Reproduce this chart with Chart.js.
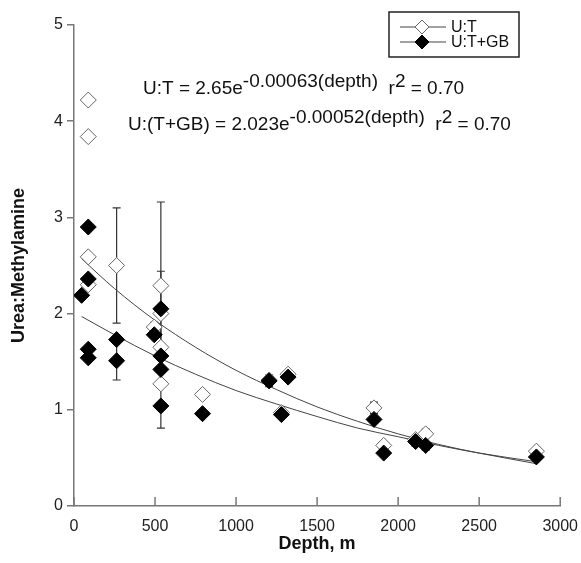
<!DOCTYPE html>
<html>
<head>
<meta charset="utf-8">
<script src="https://cdn.jsdelivr.net/npm/chart.js@4"></script>
<style>
  html, body { margin: 0; padding: 0; background: #fff; }
  #wrap { width: 581px; height: 563px; position: relative; }
</style>
</head>
<body>
<div id="wrap"><canvas id="chart"></canvas></div>
<script>
// U:T (open diamonds)
const depthUT = [88, 88, 88, 88, 263, 495, 536, 536, 536, 536, 793, 1204, 1321, 1280, 1851, 1911, 2108, 2170, 2853];
const ratioUT = [4.22, 3.84, 2.59, 2.30, 2.50, 1.86, 2.29, 2.00, 1.65, 1.27, 1.16, 1.31, 1.37, 0.97, 1.02, 0.63, 0.69, 0.75, 0.57];

// U:T+GB (filled diamonds)
const depthUTGB = [47, 88, 88, 88, 88, 263, 263, 495, 536, 536, 536, 536, 793, 1204, 1321, 1280, 1851, 1911, 2108, 2170, 2853];
const ratioUTGB = [2.19, 2.90, 2.36, 1.63, 1.54, 1.73, 1.51, 1.78, 2.05, 1.56, 1.42, 1.04, 0.96, 1.30, 1.34, 0.95, 0.90, 0.55, 0.67, 0.63, 0.51];

// error bars: depth, low, high
const errDepth = [263, 263, 536, 536, 536, 495, 1204, 1851, 2108, 2170];
const errLow   = [1.90, 1.31, 1.42, 1.66, 0.81, 1.81, 1.24, 0.96, 0.62, 0.58];
const errHigh  = [3.10, 1.71, 3.16, 2.44, 1.27, 1.91, 1.36, 1.08, 0.73, 0.80];

// fitted curves
const fitDepth = [47, 250, 500, 750, 1000, 1250, 1500, 1750, 2000, 2250, 2500, 2853];
const fitUT    = [2.57, 2.26, 1.93, 1.65, 1.41, 1.21, 1.03, 0.88, 0.75, 0.64, 0.55, 0.44];
const fitUTGB  = [1.97, 1.78, 1.56, 1.37, 1.20, 1.06, 0.93, 0.81, 0.72, 0.63, 0.55, 0.46];

const xTicks = [0, 500, 1000, 1500, 2000, 2500, 3000];
const yTicks = [0, 1, 2, 3, 4, 5];

const FONT = '"Liberation Sans", Arial, Helvetica, sans-serif';
const AXIS = '#777';

const toPts = (xs, ys) => xs.map((x, i) => ({x: x, y: ys[i]}));

// error bars drawn under the markers
const errorBars = {
    id: 'errorBars',
    beforeDatasetsDraw(chart) {
        const {ctx, scales: {x, y}} = chart;
        ctx.save();
        ctx.strokeStyle = '#333';
        ctx.lineWidth = 1.2;
        errDepth.forEach((d, i) => {
            const px = x.getPixelForValue(d);
            const lo = y.getPixelForValue(errLow[i]);
            const hi = y.getPixelForValue(errHigh[i]);
            ctx.beginPath();
            ctx.moveTo(px, lo); ctx.lineTo(px, hi);
            ctx.moveTo(px - 4, lo); ctx.lineTo(px + 4, lo);
            ctx.moveTo(px - 4, hi); ctx.lineTo(px + 4, hi);
            ctx.stroke();
        });
        ctx.restore();
    }
};

function drawDiamond(ctx, cx, cy, r, filled) {
    ctx.beginPath();
    ctx.moveTo(cx, cy - r);
    ctx.lineTo(cx + r, cy);
    ctx.lineTo(cx, cy + r);
    ctx.lineTo(cx - r, cy);
    ctx.closePath();
    ctx.fillStyle = filled ? '#000' : '#fff';
    ctx.fill();
    ctx.strokeStyle = filled ? '#000' : '#666';
    ctx.lineWidth = 1;
    ctx.stroke();
}

// draws text pieces, some raised as superscripts
function drawRich(ctx, x, y, parts) {
    parts.forEach(p => {
        ctx.font = '19px ' + FONT;
        ctx.fillText(p.t, x, p.sup ? y - 7 : y);
        x += ctx.measureText(p.t).width;
    });
}

const extras = {
    id: 'extras',
    afterDraw(chart) {
        const {ctx, chartArea, scales: {x}} = chart;
        ctx.save();

        // x ticks point up into the plot
        ctx.strokeStyle = AXIS;
        ctx.lineWidth = 1.5;
        xTicks.forEach(v => {
            const px = x.getPixelForValue(v);
            ctx.beginPath();
            ctx.moveTo(px, chartArea.bottom);
            ctx.lineTo(px, chartArea.bottom - 9);
            ctx.stroke();
        });

        // equations
        ctx.fillStyle = '#111';
        ctx.textBaseline = 'middle';
        ctx.textAlign = 'left';
        drawRich(ctx, 143, 89, [
            {t: 'U:T = 2.65e'}, {t: '-0.00063(depth)', sup: true},
            {t: '  r'}, {t: '2', sup: true}, {t: ' = 0.70'}
        ]);
        drawRich(ctx, 128, 125, [
            {t: 'U:(T+GB) = 2.023e'}, {t: '-0.00052(depth)', sup: true},
            {t: '  r'}, {t: '2', sup: true}, {t: ' = 0.70'}
        ]);

        // legend
        ctx.strokeStyle = '#222';
        ctx.lineWidth = 1.5;
        ctx.strokeRect(389, 12, 130, 45);
        [[27, false, 'U:T'], [42, true, 'U:T+GB']].forEach(([ly, filled, label]) => {
            ctx.strokeStyle = '#444';
            ctx.lineWidth = 1;
            ctx.beginPath();
            ctx.moveTo(400, ly); ctx.lineTo(446, ly);
            ctx.stroke();
            drawDiamond(ctx, 422, ly, 7, filled);
            ctx.fillStyle = '#111';
            ctx.font = '16px ' + FONT;
            ctx.fillText(label, 451, ly + 1);
        });
        ctx.restore();
    }
};

new Chart(document.getElementById('chart'), {
    type: 'scatter',
    data: {
        datasets: [
            {
                label: 'U:T+GB',
                data: toPts(depthUTGB, ratioUTGB),
                pointStyle: 'rectRot',
                pointRadius: 8,
                backgroundColor: '#000',
                borderColor: '#000',
                borderWidth: 1,
                order: 0
            },
            {
                label: 'U:T',
                data: toPts(depthUT, ratioUT),
                pointStyle: 'rectRot',
                pointRadius: 8,
                backgroundColor: '#fff',
                borderColor: '#666',
                borderWidth: 1,
                order: 1
            },
            {
                label: 'fit U:T',
                data: toPts(fitDepth, fitUT),
                showLine: true,
                cubicInterpolationMode: 'monotone',
                pointRadius: 0,
                borderColor: '#444',
                borderWidth: 1,
                order: 2
            },
            {
                label: 'fit U:T+GB',
                data: toPts(fitDepth, fitUTGB),
                showLine: true,
                cubicInterpolationMode: 'monotone',
                pointRadius: 0,
                borderColor: '#444',
                borderWidth: 1,
                order: 2
            }
        ]
    },
    options: {
        responsive: true,
        maintainAspectRatio: false,
        animation: false,
        layout: {
            padding: {top: 25, right: 20, bottom: 0, left: 0}
        },
        scales: {
            x: {
                type: 'linear',
                min: 0,
                max: 3000,
                afterBuildTicks: scale => { scale.ticks = xTicks.map(v => ({value: v})); },
                afterFit: scale => { scale.height = 57; },
                grid: {display: false},
                border: {display: true, color: AXIS, width: 1.5},
                ticks: {
                    color: '#222',
                    padding: 3,
                    maxRotation: 0,
                    callback: v => String(v),
                    font: {family: FONT, size: 16}
                },
                title: {
                    display: true,
                    text: 'Depth, m',
                    color: '#111',
                    padding: {top: 0, bottom: 8},
                    font: {family: FONT, size: 18, weight: 'bold'}
                }
            },
            y: {
                type: 'linear',
                min: 0,
                max: 5,
                afterBuildTicks: scale => { scale.ticks = yTicks.map(v => ({value: v})); },
                afterFit: scale => { scale.width = 74; },
                grid: {
                    drawOnChartArea: false,
                    tickLength: 7,
                    color: AXIS,
                    lineWidth: 1.5
                },
                border: {display: true, color: AXIS, width: 1.5},
                ticks: {
                    color: '#222',
                    padding: 4,
                    callback: v => String(v),
                    font: {family: FONT, size: 16}
                },
                title: {
                    display: true,
                    text: 'Urea:Methylamine',
                    color: '#111',
                    padding: {top: 8, bottom: 0},
                    font: {family: FONT, size: 18, weight: 'bold'}
                }
            }
        },
        plugins: {
            legend: {display: false},
            tooltip: {enabled: false}
        }
    },
    plugins: [errorBars, extras]
});
</script>
</body>
</html>
